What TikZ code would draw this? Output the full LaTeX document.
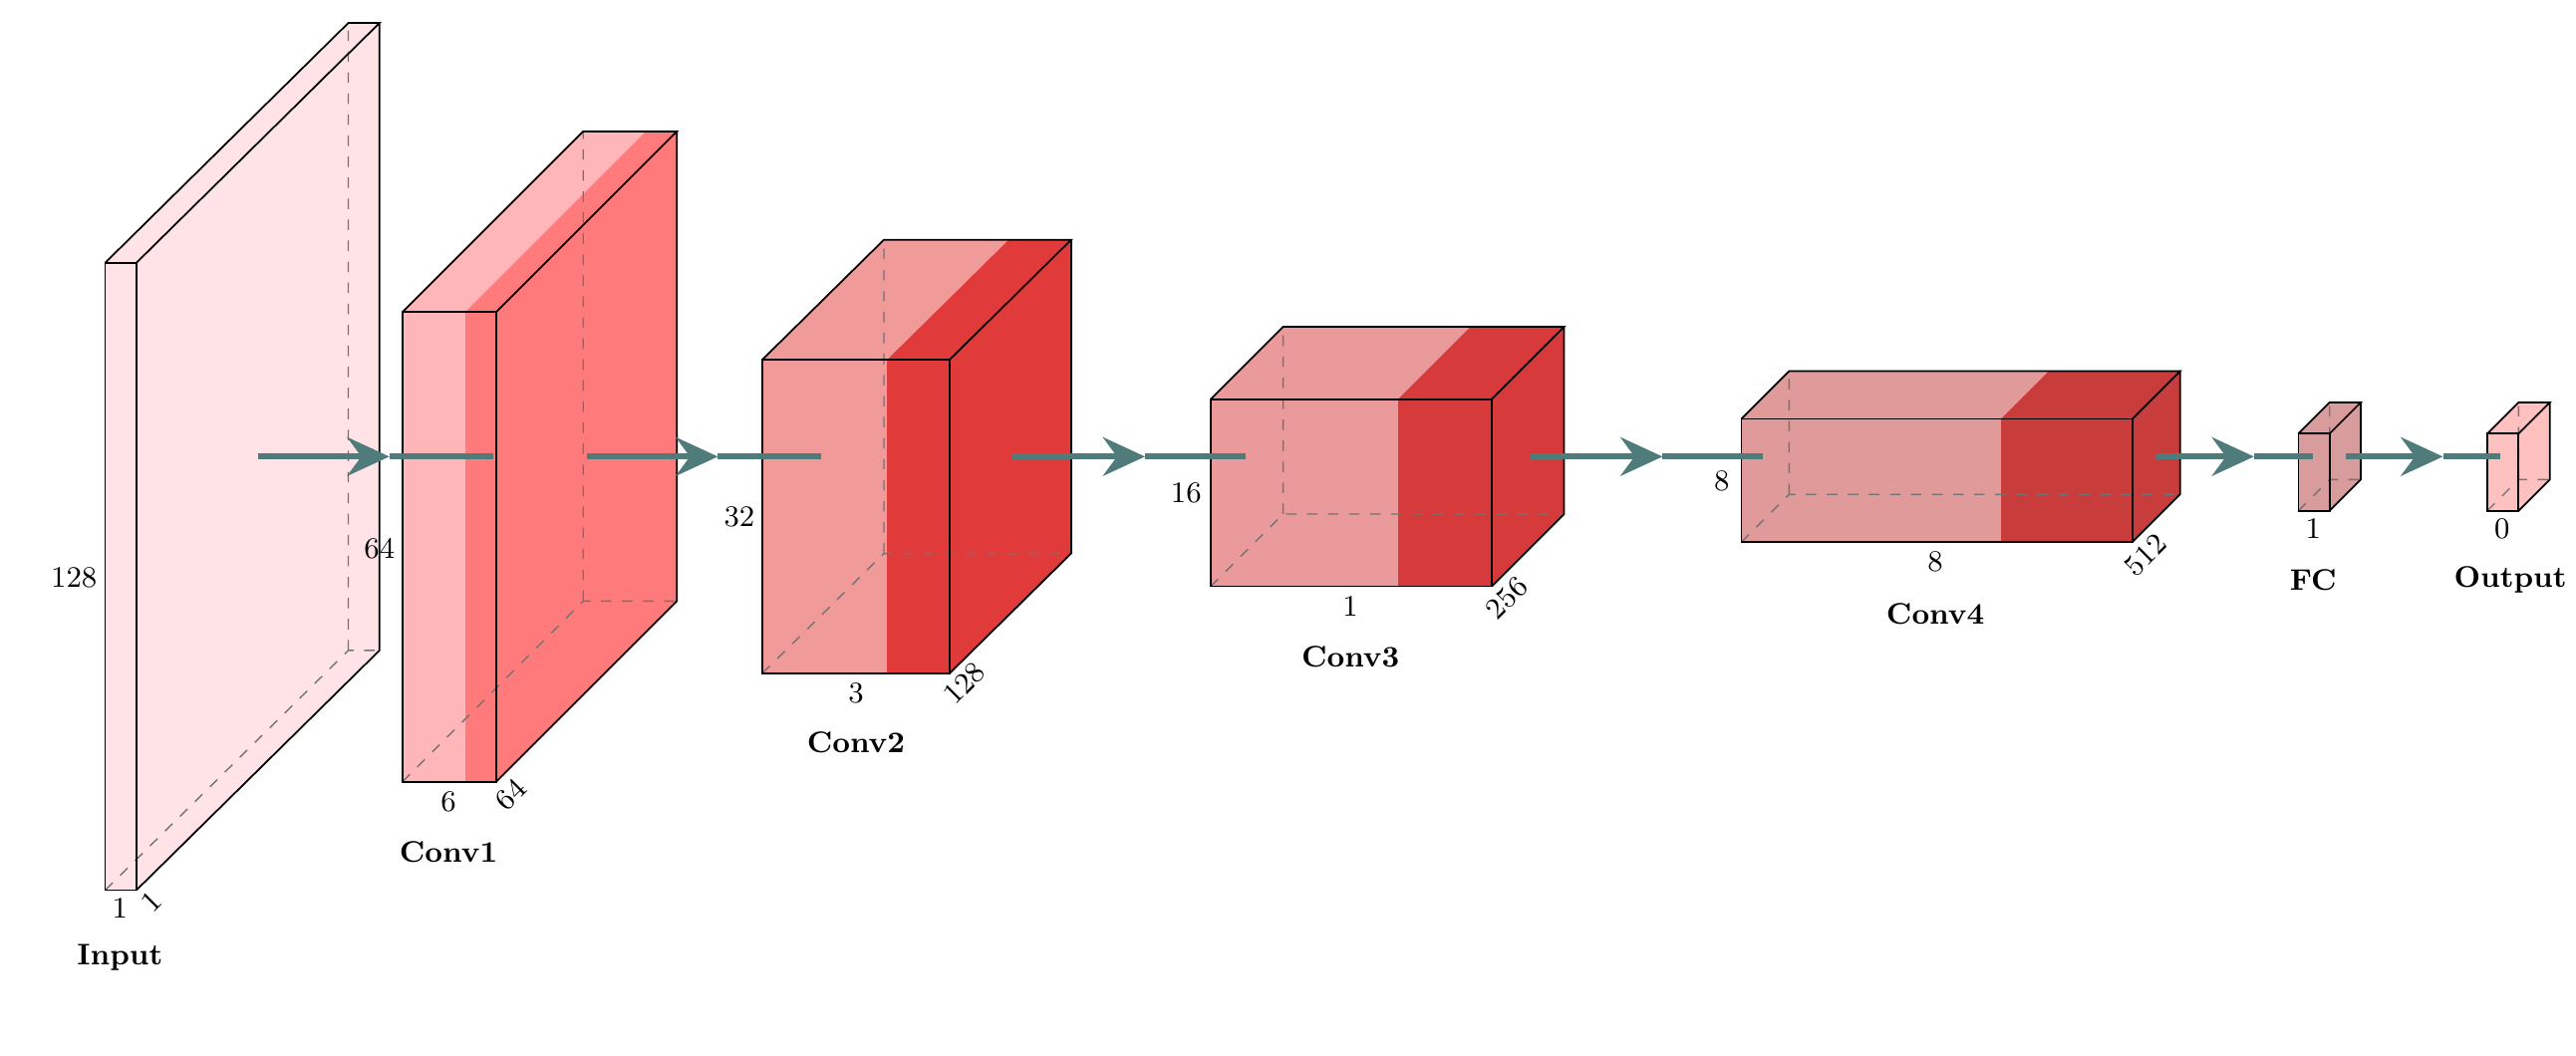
\documentclass[tikz,border=0pt]{standalone}
\usetikzlibrary{arrows.meta}
\definecolor{arr}{HTML}{4F7C7A}
\definecolor{inC}{HTML}{FFE3E6}
\definecolor{cAl}{HTML}{FFB6B8}\definecolor{cAd}{HTML}{FF7B7B}
\definecolor{cBl}{HTML}{F09A9A}\definecolor{cBd}{HTML}{E03A3A}
\definecolor{cCl}{HTML}{EA9A9A}\definecolor{cCd}{HTML}{D63A3A}
\definecolor{cDl}{HTML}{E09A9A}\definecolor{cDd}{HTML}{C83C3C}
\definecolor{fcC}{HTML}{D99C9C}\definecolor{outC}{HTML}{FFC0C0}
\tikzset{edge/.style={draw=black,line width=0.5pt},
 hid/.style={draw=black!55,dashed,line width=0.4pt},
 lab/.style={font=\fontsize{8.5}{10}\selectfont,inner sep=0pt},
 nm/.style={font=\fontsize{8.5}{10}\selectfont\bfseries,inner sep=0pt},
 conn/.style={draw=arr,line width=1.8pt},
 head/.style={conn,-{Stealth[length=12pt,width=11pt,inset=4pt]}}}
\newcommand\mycubeDark{}
% #1 name, #2 x, #3 split x, #4 right x, #5 top y, #6 bottom y, #7 dx, #8 dy(up), #9 light
\newcommand\mycube[9]{%
 \fill[#9] (#2,#5)--(#3,#5)--(#3+#7,#5-#8)--(#2+#7,#5-#8)--cycle;
 \fill[#9] (#2,#5) rectangle (#3,#6);
 \mycubeC{#1}{#2}{#3}{#4}{#5}{#6}{#7}{#8}}
\newcommand\mycubeC[8]{%
 \fill[\mycubeDark] (#3,#5)--(#4,#5)--(#4+#7,#5-#8)--(#3+#7,#5-#8)--cycle;
 \fill[\mycubeDark] (#3,#5) rectangle (#4,#6);
 \fill[\mycubeDark] (#4,#5)--(#4+#7,#5-#8)--(#4+#7,#6-#8)--(#4,#6)--cycle;
 \draw[hid] (#2,#6)--(#2+#7,#6-#8)--(#4+#7,#6-#8) (#2+#7,#6-#8)--(#2+#7,#5-#8);
 \draw[edge] (#2,#5) rectangle (#4,#6);
 \draw[edge] (#2,#5)--(#2+#7,#5-#8)--(#4+#7,#5-#8)--(#4,#5) (#4+#7,#5-#8)--(#4+#7,#6-#8)--(#4,#6);
 \coordinate (#1) at (#2,#5);}
\begin{document}
\begin{tikzpicture}[x=0.016486cm,y=-0.016486cm]
\useasboundingbox (0,0) rectangle (1568,642.4);
\renewcommand\mycubeDark{inC}\mycube{input}{64}{83}{83}{160}{542}{148}{146}{inC}
\renewcommand\mycubeDark{cAd}\mycube{conv1}{245}{283}{302}{190}{476}{110}{110}{cAl}
\renewcommand\mycubeDark{cBd}\mycube{conv2}{464}{540}{578}{219}{410}{74}{73}{cBl}
\renewcommand\mycubeDark{cCd}\mycube{conv3}{737}{851}{908}{243}{357}{44}{44}{cCl}
\renewcommand\mycubeDark{cDd}\mycube{conv4}{1060}{1218}{1298}{255}{330}{29}{29}{cDl}
\renewcommand\mycubeDark{fcC}\mycube{fc}{1399}{1418}{1418}{264}{311}{19}{19}{fcC}
\renewcommand\mycubeDark{outC}\mycube{out}{1514}{1533}{1533}{264}{311}{19}{19}{outC}
% connectors
\foreach \n/\a/\m/\b in {a1/157/237/300, a2/357/437/500, a3/616/697/758, a4/931/1012/1073, a5/1312/1372/1408, a6/1428/1487/1522}{
 \coordinate (\n s) at (\a,278); \coordinate (\n m) at (\m,278); \coordinate (\n e) at (\b,278);
 \draw[conn] (\n m)--(\n e); \draw[head] (\n s)--(\n m);}
% labels
\node[lab] (l1) at (45,352) {128};
\node[lab] (l2) at (73,553) {1};
\node[lab,rotate=45] (l3) at (92,549) {1};
\node[nm] (n1) at (73,583) {Input};
\node[lab] (l4) at (231,334) {64};
\node[lab] (l5) at (273,488) {6};
\node[lab,rotate=45] (l6) at (311,484) {64};
\node[nm] (n2) at (273,519) {Conv1};
\node[lab] (l7) at (450,315) {32};
\node[lab] (l8) at (521,422) {3};
\node[lab,rotate=45] (l9) at (587,416) {128};
\node[nm] (n3) at (521,452) {Conv2};
\node[lab] (l10) at (722,300) {16};
\node[lab] (l11) at (822,369) {1};
\node[lab,rotate=45] (l12) at (917,364) {256};
\node[nm] (n4) at (822,400) {Conv3};
\node[lab] (l13) at (1048,293) {8};
\node[lab] (l14) at (1178,342) {8};
\node[lab,rotate=45] (l15) at (1306,338) {512};
\node[nm] (n5) at (1178,374) {Conv4};
\node[lab] (l16) at (1408,322) {1};
\node[nm] (n6) at (1408,353) {FC};
\node[lab] (l17) at (1523,322) {0};
\node[nm] (n7) at (1528,353) {Output};
\end{tikzpicture}
\end{document}
